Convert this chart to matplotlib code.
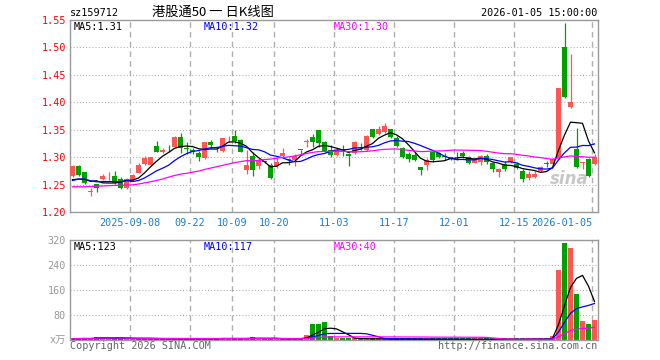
"""Daily K-line chart of sz159712 in the Sina finance style."""

import numpy as np
import pandas as pd
import matplotlib
matplotlib.use('Agg')
import matplotlib.pyplot as plt


opens = [1.2657, 1.2839, 1.2730, 1.2368, 1.2505, 1.2602, 1.2650, 1.2657, 1.2602, 1.2444,
         1.2584, 1.2717, 1.2869, 1.2857, 1.3204, 1.3088, 1.3206, 1.3192, 1.3368, 1.3155,
         1.3137, 1.3076, 1.2991, 1.3283, 1.3145, 1.3113, 1.3380, 1.3392, 1.3313, 1.2766,
         1.3021, 1.2845, 1.2924, 1.2857, 1.2845, 1.3027, 1.2950, 1.2948, 1.3133, 1.3277,
         1.3374, 1.3496, 1.3271, 1.3131, 1.3040, 1.3131, 1.3058, 1.3070, 1.3192, 1.3131,
         1.3508, 1.3417, 1.3453, 1.3514, 1.3356, 1.3173, 1.3058, 1.3040, 1.2821, 1.2857,
         1.3088, 1.3082, 1.3011, 1.2997, 1.3000, 1.3070, 1.3009, 1.2900, 1.2906, 1.3021,
         1.2900, 1.2735, 1.2869, 1.2905, 1.2869, 1.2753, 1.2614, 1.2632, 1.2753, 1.2876,
         1.2875, 1.2978, 1.5014, 1.3908, 1.3148, 1.2900, 1.2960, 1.2875]
highs = [1.2860, 1.2850, 1.2736, 1.2432, 1.2517, 1.2687, 1.2736, 1.2748, 1.2638, 1.2614,
         1.2687, 1.2888, 1.3021, 1.3009, 1.3295, 1.3173, 1.3222, 1.3392, 1.3441, 1.3271,
         1.3173, 1.3113, 1.3283, 1.3307, 1.3192, 1.3356, 1.3392, 1.3496, 1.3332, 1.3131,
         1.3088, 1.2991, 1.2930, 1.2887, 1.2979, 1.3161, 1.2991, 1.3052, 1.3133, 1.3331,
         1.3417, 1.3496, 1.3301, 1.3222, 1.3161, 1.3222, 1.3070, 1.3295, 1.3252, 1.3404,
         1.3514, 1.3569, 1.3617, 1.3514, 1.3392, 1.3186, 1.3088, 1.3088, 1.2821, 1.2991,
         1.3113, 1.3100, 1.3070, 1.3009, 1.3088, 1.3113, 1.3027, 1.2991, 1.3040, 1.3052,
         1.2918, 1.2796, 1.2936, 1.3009, 1.2905, 1.2784, 1.2748, 1.2748, 1.2845, 1.2930,
         1.2978, 1.4266, 1.5440, 1.4880, 1.3525, 1.2905, 1.2978, 1.3051]
lows = [1.2640, 1.2663, 1.2505, 1.2298, 1.2370, 1.2590, 1.2578, 1.2511, 1.2420, 1.2426,
        1.2578, 1.2705, 1.2857, 1.2845, 1.3088, 1.3070, 1.3088, 1.3180, 1.3070, 1.3058,
        1.3058, 1.2936, 1.2973, 1.3173, 1.3088, 1.3100, 1.3283, 1.3253, 1.3088, 1.2693,
        1.2657, 1.2784, 1.2887, 1.2596, 1.2808, 1.2991, 1.2857, 1.2839, 1.3040, 1.3192,
        1.3192, 1.3180, 1.3088, 1.3009, 1.3027, 1.3021, 1.2839, 1.3058, 1.3131, 1.3119,
        1.3356, 1.3404, 1.3435, 1.3356, 1.3180, 1.2979, 1.2918, 1.2936, 1.2675, 1.2766,
        1.2918, 1.2991, 1.2948, 1.2948, 1.2955, 1.2979, 1.2869, 1.2887, 1.2857, 1.2869,
        1.2735, 1.2644, 1.2753, 1.2887, 1.2784, 1.2553, 1.2584, 1.2620, 1.2735, 1.2814,
        1.2863, 1.2966, 1.4072, 1.3890, 1.2796, 1.2784, 1.2644, 1.2863]
closes = [1.2845, 1.2675, 1.2523, 1.2372, 1.2432, 1.2657, 1.2660, 1.2523, 1.2444, 1.2596,
          1.2675, 1.2857, 1.2991, 1.2997, 1.3100, 1.3137, 1.3198, 1.3368, 1.3161, 1.3149,
          1.3088, 1.3009, 1.3277, 1.3222, 1.3143, 1.3344, 1.3390, 1.3295, 1.3100, 1.2857,
          1.2766, 1.2942, 1.2918, 1.2626, 1.2918, 1.3082, 1.2948, 1.3027, 1.3131, 1.3283,
          1.3283, 1.3265, 1.3100, 1.3040, 1.3131, 1.3125, 1.3027, 1.3283, 1.3161, 1.3392,
          1.3374, 1.3514, 1.3569, 1.3374, 1.3204, 1.3009, 1.2967, 1.2955, 1.2766, 1.2942,
          1.2948, 1.3009, 1.3009, 1.2961, 1.2995, 1.3027, 1.2887, 1.2967, 1.3021, 1.2906,
          1.2784, 1.2778, 1.2784, 1.2997, 1.2796, 1.2602, 1.2687, 1.2699, 1.2826, 1.2874,
          1.2960, 1.4266, 1.4090, 1.3999, 1.2826, 1.2905, 1.2656, 1.3009]
# volume in units of 10k shares
volumes = [4, 5, 5, 4, 10, 9, 9, 4, 4, 4,
           4, 4, 4, 4, 4, 4, 4, 4, 4, 4,
           4, 4, 4, 4, 4, 8, 4, 4, 4, 4,
           10, 4, 4, 4, 4, 4, 4, 4, 4, 16,
           51, 51, 58, 13, 5, 5, 4, 4, 4, 4,
           3, 3, 3, 3, 3, 3, 3, 3, 2, 2,
           2, 2, 2, 2, 2, 2, 2, 2, 2, 2,
           2, 2, 2, 2, 2, 2, 4, 3, 4, 2,
           13, 224, 309, 293, 147, 61, 51, 64]

# moving averages before the window fills (history not shown in chart)
ma5_head = [1.2590, 1.2600, 1.2595, 1.2560]
ma10_head = [1.2575, 1.2600, 1.2600, 1.2570, 1.2550, 1.2555, 1.2555, 1.2555, 1.2550]
ma30_head = [1.2460, 1.2460, 1.2460, 1.2465, 1.2470, 1.2475, 1.2480, 1.2485, 1.2487, 1.2490,
             1.2495, 1.2510, 1.2530, 1.2550, 1.2575, 1.2600, 1.2635, 1.2665, 1.2690, 1.2705,
             1.2725, 1.2745, 1.2775, 1.2800, 1.2825, 1.2850, 1.2875, 1.2900, 1.2918]

tick_pos = [10, 20, 27, 34, 44, 54, 64, 74, 87]
tick_labels = ['2025-09-08', '09-22', '10-09', '10-20', '11-03', '11-17',
               '12-01', '12-15', '2026-01-05']
price_ticks = [1.20, 1.25, 1.30, 1.35, 1.40, 1.45, 1.50, 1.55]
vol_ticks = [80, 160, 240, 320]

RED = '#ff5555'
GREEN = '#00a000'
GRID = '#b0b0b0'
FRAME = '#999999'
MONO = 'DejaVu Sans Mono'
W, H = 660, 360


def moving_average(values, window, head=None):
  """Rolling mean; the head replaces points before the window fills."""
  if head is None:
    return pd.Series(values).rolling(window, min_periods=1).mean().to_numpy()
  ma = pd.Series(values).rolling(window).mean().to_numpy()
  ma[:len(head)] = head
  return ma


def style_axes(ax, hlines):
  """Frame, grid and tick look shared by both panels."""
  for s in ax.spines.values():
    s.set_color(FRAME)
    s.set_linewidth(1)
  ax.tick_params(length=0)
  for y in hlines:
    ax.axhline(y, color=GRID, lw=0.75, ls=(0, (1, 2)), zorder=0)
  for p in tick_pos:
    ax.axvline(p - 0.42, color=GRID, lw=1, ls=(0, (4, 3)), zorder=0)
  ax.set_xlim(-5 / 12, -5 / 12 + len(closes))


def px(x, y):
  """Pixel position to figure fraction."""
  return x / W, 1 - y / H


def draw_price(ax):
  x = np.arange(len(closes))
  o, c = np.array(opens), np.array(closes)
  colors = np.where(c >= o, RED, GREEN)
  ax.vlines(x, lows, highs, colors=colors, lw=0.9, zorder=2)
  ax.bar(x, np.maximum(np.abs(c - o), 0.0012), 5 / 6,
         bottom=np.minimum(o, c), color=colors, lw=0, zorder=3)
  ax.plot(x, moving_average(closes, 5, ma5_head), color='black', lw=0.9, zorder=4)
  ax.plot(x, moving_average(closes, 10, ma10_head), color='#0000ff', lw=0.9, zorder=4)
  ax.plot(x, moving_average(closes, 30, ma30_head), color='#ff00ff', lw=0.9, zorder=4)
  ax.set_ylim(1.20, 1.55)
  style_axes(ax, price_ticks[1:-1])
  ax.set_yticks(price_ticks)
  ax.set_yticklabels([f'{t:.2f}' for t in price_ticks], color='red',
                     family=MONO, fontsize=7.3)
  ax.set_xticks([p - 0.42 for p in tick_pos])
  labels = ax.set_xticklabels(tick_labels, color='#1a7fd0', family=MONO, fontsize=7.3)
  labels[-1].set_horizontalalignment('right')
  ax.tick_params(axis='x', pad=4)
  ax.tick_params(axis='y', pad=3)
  ax.text(0.945, 0.17, 'sina', transform=ax.transAxes, ha='center', va='center',
          color='#c8c8c8', fontsize=12, style='italic', weight='bold', zorder=1)


def draw_volume(ax):
  x = np.arange(len(volumes))
  colors = np.where(np.array(closes) >= np.array(opens), RED, GREEN)
  # tiny days still get a visible sliver, as on the site
  ax.bar(x, np.maximum(volumes, 5), 5 / 6, color=colors, lw=0, zorder=2)
  ax.plot(x, moving_average(volumes, 5), color='black', lw=0.9, zorder=4)
  ax.plot(x, moving_average(volumes, 10), color='#0000ff', lw=0.9, zorder=4)
  ax.plot(x, moving_average(volumes, 30), color='#ff00ff', lw=0.9, zorder=4)
  ax.set_ylim(0, 320)
  style_axes(ax, vol_ticks[:-1])
  ax.set_yticks(vol_ticks)
  ax.set_yticklabels([str(t) for t in vol_ticks], color='#999999',
                     family=MONO, fontsize=7.3)
  ax.tick_params(axis='y', pad=3)
  ax.set_xticks([])


if __name__ == '__main__':
  fig = plt.figure(figsize=(6.6, 3.6), dpi=100)
  ax_p = fig.add_axes([70 / W, 1 - 212 / H, 528 / W, 192 / H])
  ax_v = fig.add_axes([70 / W, 1 - 340 / H, 528 / W, 100 / H])
  draw_price(ax_p)
  draw_volume(ax_v)

  ma_p = [moving_average(closes, n, h)[-1]
          for n, h in [(5, ma5_head), (10, ma10_head), (30, ma30_head)]]
  ma_v = [moving_average(volumes, n)[-1] for n in (5, 10, 30)]
  for (x, name, color), mp, mv in zip(
      [(74, 'MA5', 'black'), (204, 'MA10', '#0000ff'), (334, 'MA30', '#ff00ff')],
      ma_p, ma_v):
    fig.text(*px(x, 26.5), f'{name}:{mp:.2f}', color=color, family=MONO,
             fontsize=7.3, va='center')
    fig.text(*px(x, 246.5), f'{name}:{mv:.0f}', color=color, family=MONO,
             fontsize=7.3, va='center')

  fig.text(*px(70, 13), 'sz159712', family=MONO, fontsize=7.3, va='center')
  fig.text(*px(213, 12.5), '港股通50 一 日K线图', family=['Noto Sans CJK SC', 'DejaVu Sans'],
           fontsize=9.5, ha='center', va='center')
  fig.text(*px(597, 13), '2026-01-05 15:00:00', family=MONO, fontsize=7.3,
           ha='right', va='center')
  fig.text(*px(66, 340), 'x万', family=[MONO, 'Noto Sans CJK SC'], fontsize=7.3,
           color='#999999', ha='right', va='center')
  fig.text(*px(70, 346), 'Copyright 2026 SINA.COM', family=MONO, fontsize=7.3,
           color='#666666', va='center')
  fig.text(*px(597, 346), 'http://finance.sina.com.cn', family=MONO, fontsize=7.3,
           color='#666666', ha='right', va='center')

  fig.savefig('out.png', dpi=100)
